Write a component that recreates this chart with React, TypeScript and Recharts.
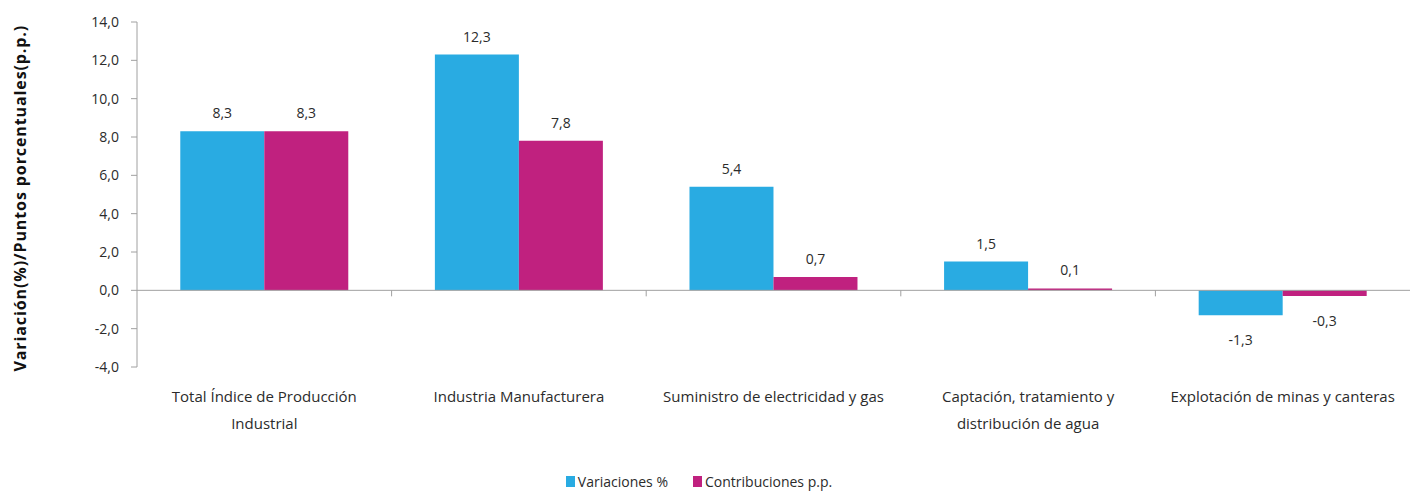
import { BarChart, Bar, XAxis, YAxis, LabelList, Legend, ReferenceLine } from "recharts";

const categories = [
  "Total Índice de Producción\nIndustrial",
  "Industria Manufacturera",
  "Suministro de electricidad y gas",
  "Captación, tratamiento y\ndistribución de agua",
  "Explotación de minas y canteras",
];
const variaciones = [8.3, 12.3, 5.4, 1.5, -1.3];
const contribuciones = [8.3, 7.8, 0.7, 0.1, -0.3];
const yTicks = [-4, -2, 0, 2, 4, 6, 8, 10, 12, 14];

const data = categories.map((name, i) => ({
  name,
  variaciones: variaciones[i],
  contribuciones: contribuciones[i],
}));

const FONT = "'Open Sans', 'Noto Sans', sans-serif";
const TEXT = "#2b2b2b";
const AXIS = "#a0a0a0";
const fmt = (v: number) => v.toFixed(1).replace(".", ",");

const CategoryTick = (props: any) => {
  const { x, y, payload } = props;
  const lines = String(payload.value).split("\n");
  return (
    <g>
      {lines.map((line, i) => (
        <text
          key={i}
          x={x}
          y={y + 27 + i * 27}
          textAnchor="middle"
          fontSize={15}
          fontFamily={FONT}
          fill={TEXT}
        >
          {line}
        </text>
      ))}
    </g>
  );
};

// zero line acting as the category axis, with tick marks between categories
const ZeroAxis = (props: any) => {
  const { x1, x2, y1 } = props;
  const step = (x2 - x1) / categories.length;
  return (
    <g>
      <line x1={x1} x2={x2} y1={y1} y2={y1} stroke={AXIS} />
      {categories.slice(1).map((_, i) => (
        <line
          key={i}
          x1={x1 + step * (i + 1)}
          x2={x1 + step * (i + 1)}
          y1={y1}
          y2={y1 + 6}
          stroke={AXIS}
        />
      ))}
    </g>
  );
};

const ValueLabel = (props: any) => {
  const { x, y, width, height, value } = props;
  const top = Math.min(y, y + height);
  const bottom = Math.max(y, y + height);
  const ty = value >= 0 ? top - 13 : bottom + 30;
  return (
    <text
      x={x + width / 2}
      y={ty}
      textAnchor="middle"
      fontSize={14}
      fontFamily={FONT}
      fill={TEXT}
    >
      {fmt(value)}
    </text>
  );
};

const LegendContent = () => (
  <div
    style={{
      display: "flex",
      justifyContent: "center",
      gap: 25,
      paddingTop: 15,
      paddingRight: 52,
      fontFamily: FONT,
      fontSize: 14,
      color: TEXT,
    }}
  >
    {[
      { label: "Variaciones %", color: "#29ABE2" },
      { label: "Contribuciones p.p.", color: "#C0217F" },
    ].map((it) => (
      <span key={it.label} style={{ display: "flex", alignItems: "center" }}>
        <span
          style={{
            display: "inline-block",
            width: 9,
            height: 11,
            background: it.color,
            marginRight: 3,
          }}
        />
        {it.label}
      </span>
    ))}
  </div>
);

export default function App() {
  return (
    <div style={{ position: "absolute", left: 0, top: 0, background: "#fff" }}>
      <BarChart
        width={1410}
        height={491}
        data={data}
        margin={{ top: 22, right: 0, left: 40, bottom: 4 }}
        barCategoryGap="17%"
        barGap={0}
      >
        <XAxis
          dataKey="name"
          axisLine={false}
          tickLine={false}
          tick={<CategoryTick />}
          height={90}
          interval={0}
        />
        <YAxis
          domain={[-4, 14]}
          ticks={yTicks}
          width={97}
          interval={0}
          tickFormatter={fmt}
          axisLine={{ stroke: AXIS }}
          tickLine={{ stroke: AXIS }}
          tickSize={6}
          tickMargin={12}
          tick={{ fontSize: 14, fontFamily: FONT, fill: TEXT }}
          label={{
            value: "Variación(%)/Puntos  porcentuales(p.p.)",
            angle: -90,
            position: "insideLeft",
            offset: -20,
            dy: 177,
            style: {
              fontSize: 16,
              fontWeight: "bold",
              letterSpacing: 0.9,
              fontFamily: FONT,
              fill: "#111",
              textAnchor: "start",
            },
          }}
        />
        <Legend
          verticalAlign="bottom"
          height={30}
          content={<LegendContent />}
        />
        <Bar dataKey="variaciones" fill="#29ABE2" isAnimationActive={false}>
          <LabelList dataKey="variaciones" content={<ValueLabel />} />
        </Bar>
        <Bar dataKey="contribuciones" fill="#C0217F" isAnimationActive={false}>
          <LabelList dataKey="contribuciones" content={<ValueLabel />} />
        </Bar>
        <ReferenceLine y={0} shape={<ZeroAxis />} />
      </BarChart>
    </div>
  );
}
